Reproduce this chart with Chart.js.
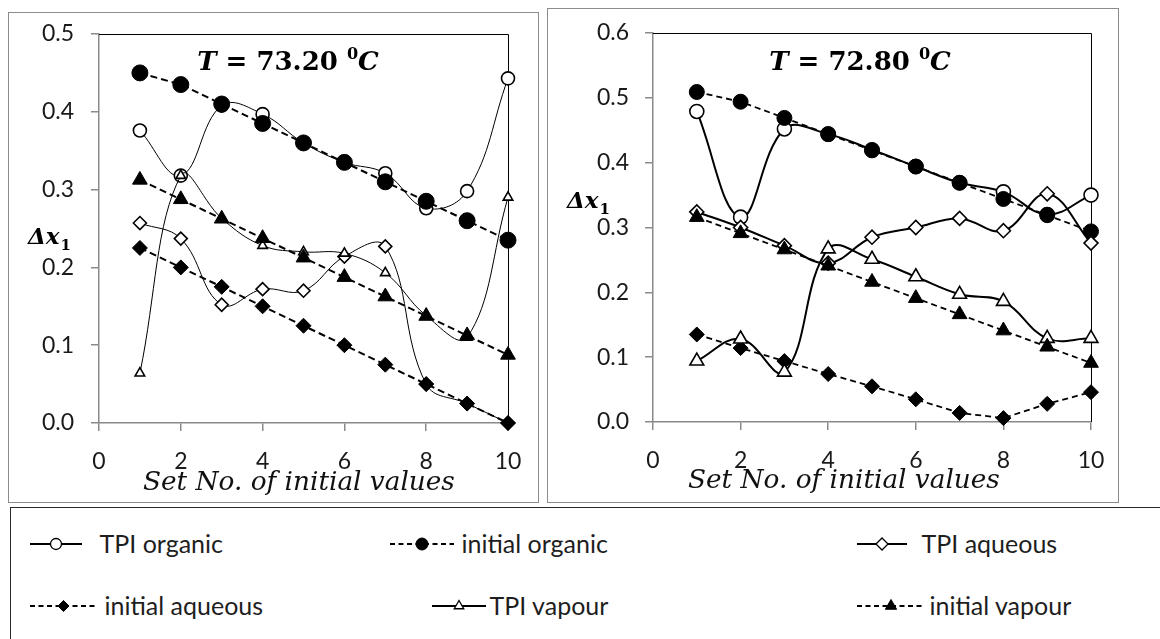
<!DOCTYPE html>
<html><head><meta charset="utf-8">
<script src="https://cdn.jsdelivr.net/npm/chart.js@4.4.0/dist/chart.umd.min.js"></script>
<style>
html,body{margin:0;padding:0;background:#fff}
body{width:1160px;height:639px;overflow:hidden;position:relative;font-family:Lato,"Open Sans",sans-serif}
.box{position:absolute;border:1.5px solid #8c8c8c;box-sizing:border-box}
canvas{position:absolute}
#legend{position:absolute;left:10px;top:507px;width:1170px;height:150px;border:1.5px solid #2a2a2a;box-sizing:border-box}
#legend svg{position:absolute;overflow:visible}
.item{position:absolute;white-space:nowrap;font-size:25px;color:#1e1e1e;line-height:30px}
</style></head><body>
<div class="box" style="left:8px;top:12px;width:531px;height:491px"></div>
<div class="box" style="left:547px;top:8px;width:572px;height:495px"></div>
<canvas id="cl" width="545" height="505" style="left:0;top:0"></canvas>
<canvas id="cr" width="615" height="505" style="left:545px;top:0"></canvas>
<div id="legend"></div>
<script>
// ---------- data ----------
const setNo = [1, 2, 3, 4, 5, 6, 7, 8, 9, 10];
const seriesNames = ['TPI organic', 'initial organic', 'TPI aqueous', 'initial aqueous', 'TPI vapour', 'initial vapour'];
const xTickLabels = ['0', '2', '4', '6', '8', '10'];
const yTickLabelsLeft = ['0.0', '0.1', '0.2', '0.3', '0.4', '0.5'];
const yTickLabelsRight = ['0.0', '0.1', '0.2', '0.3', '0.4', '0.5', '0.6'];
const tempLeft = '73.20';
const tempRight = '72.80';
const yAxisLabel = 'Δx';
const xAxisLabel = 'Set No. of initial values';

// T = 73.20 °C
const tpiOrganicL   = [0.376, 0.318, 0.408, 0.397, 0.360, 0.335, 0.321, 0.276, 0.298, 0.443];
const initOrganicL  = [0.450, 0.435, 0.410, 0.385, 0.360, 0.335, 0.310, 0.285, 0.260, 0.235];
const tpiAqueousL   = [0.257, 0.237, 0.152, 0.172, 0.170, 0.214, 0.227, 0.050, 0.025, 0.000];
const initAqueousL  = [0.225, 0.200, 0.175, 0.150, 0.125, 0.100, 0.075, 0.050, 0.025, 0.000];
const tpiVapourL    = [0.064, 0.318, 0.263, 0.228, 0.220, 0.218, 0.193, 0.138, 0.110, 0.290];
const initVapourL   = [0.3125, 0.2875, 0.2625, 0.2375, 0.2125, 0.1875, 0.1625, 0.1375, 0.1125, 0.0875];

// T = 72.80 °C
const tpiOrganicR   = [0.479, 0.316, 0.452, 0.444, 0.420, 0.394, 0.369, 0.355, 0.320, 0.350];
const initOrganicR  = [0.509, 0.494, 0.469, 0.444, 0.419, 0.394, 0.369, 0.344, 0.319, 0.294];
const tpiAqueousR   = [0.324, 0.300, 0.272, 0.245, 0.285, 0.300, 0.314, 0.295, 0.352, 0.276];
const initAqueousR  = [0.135, 0.114, 0.094, 0.074, 0.055, 0.035, 0.014, 0.006, 0.028, 0.046];
const tpiVapourR    = [0.094, 0.128, 0.077, 0.267, 0.251, 0.224, 0.197, 0.186, 0.129, 0.129];
const initVapourR   = [0.316, 0.291, 0.266, 0.241, 0.216, 0.191, 0.166, 0.141, 0.116, 0.091];

// ---------- styling ----------
const INK = '#000';
const AXIS = '#8a8a8a';
const TICKFONT = 'Lato, "Open Sans", sans-serif';
const SERIF = '"DejaVu Serif", "Liberation Serif", serif';
const shapes = ['circle', 'circle', 'rectRot', 'rectRot', 'triangle', 'triangle'];
const filled = [false, true, false, true, false, true];
const dashed = [false, true, false, true, false, true];

function buildDatasets(valueLists, cfg) {
  return valueLists.map((vals, i) => ({
    label: seriesNames[i],
    data: setNo.map((x, k) => ({x: x, y: vals[k]})),
    borderColor: INK,
    borderWidth: dashed[i] ? cfg.dashWidth : cfg.solidWidth,
    borderDash: dashed[i] ? cfg.dash : [],
    tension: dashed[i] ? 0 : 0.4,
    pointStyle: shapes[i],
    pointRadius: cfg.radii[i],
    pointHoverRadius: cfg.radii[i],
    pointBackgroundColor: filled[i] ? INK : '#fff',
    pointBorderColor: INK,
    pointBorderWidth: filled[i] ? 1 : 1.6,
    fill: false,
    clip: false,
    order: 10 - i
  }));
}

function fitFont(ctx, text, style, family, width) {
  ctx.font = style + ' 100px ' + family;
  const w = ctx.measureText(text).width;
  return 100 * width / w;
}

const decor = {
  id: 'decor',
  beforeDatasetsDraw(chart, args, o) {
    const {ctx, chartArea: a} = chart;
    ctx.save();
    ctx.strokeStyle = INK; ctx.lineWidth = 1;
    ctx.beginPath();
    ctx.moveTo(a.left, a.top + 0.5); ctx.lineTo(a.right + 0.5, a.top + 0.5); ctx.lineTo(a.right + 0.5, a.bottom);
    ctx.stroke();
    ctx.restore();
  },
  afterDraw(chart, args, o) {
    const ctx = chart.ctx;
    ctx.save();
    ctx.fillStyle = INK;
    ctx.textBaseline = 'alphabetic';
    const parts = [
      {t: 'T', st: 'italic bold', s: 1},
      {t: ' = ' + o.temp + ' ', st: 'bold', s: 1},
      {t: '0', st: 'bold', s: 0.62, dy: -0.42},
      {t: 'C', st: 'italic bold', s: 1}
    ];
    const size = o.titleSize;
    let total = 0;
    parts.forEach(p => { ctx.font = p.st + ' ' + (size * p.s) + 'px ' + SERIF; p.w = ctx.measureText(p.t).width; total += p.w; });
    let x = o.titleX - total / 2;
    parts.forEach(p => {
      ctx.font = p.st + ' ' + (size * p.s) + 'px ' + SERIF;
      ctx.textAlign = 'left';
      ctx.fillText(p.t, x, o.titleY + (p.dy || 0) * size);
      x += p.w;
    });
    ctx.font = 'italic bold 23px ' + SERIF;
    ctx.textAlign = 'left';
    ctx.fillText(yAxisLabel, o.ylX, o.ylY);
    const wy = ctx.measureText(yAxisLabel).width;
    ctx.font = 'bold 15px ' + SERIF;
    ctx.fillText('1', o.ylX + wy + 1, o.ylY + 6);
    const fs = fitFont(ctx, xAxisLabel, 'italic', SERIF, o.xlW);
    ctx.font = 'italic ' + fs + 'px ' + SERIF;
    ctx.fillStyle = '#111';
    ctx.textAlign = 'left';
    ctx.fillText(xAxisLabel, o.xlX, o.xlY);
    ctx.restore();
  }
};

function makeChart(id, valueLists, p) {
  return new Chart(document.getElementById(id), {
    type: 'line',
    data: {datasets: buildDatasets(valueLists, p.ds)},
    options: {
      responsive: false,
      animation: false,
      events: [],
      layout: {padding: {top: p.padTop, right: p.padRight, left: 0, bottom: 0}},
      plugins: {
        legend: {display: false},
        tooltip: {enabled: false},
        decor: p.decor
      },
      scales: {
        x: {
          type: 'linear', min: 0, max: 10,
          afterFit: s => { s.height = p.xHeight; },
          ticks: {stepSize: 2, padding: p.xPad, color: '#1a1a1a', font: {family: TICKFONT, size: 23},
            callback: (v, i) => xTickLabels[i], maxRotation: 0},
          grid: {drawOnChartArea: false, drawTicks: true, tickLength: 8, color: AXIS, lineWidth: 1.5},
          border: {color: AXIS, width: 1.5}
        },
        y: {
          min: 0, max: p.yMax,
          afterFit: s => { s.width = p.yWidth; },
          ticks: {stepSize: 0.1, padding: p.yPad, color: '#1a1a1a', font: {family: TICKFONT, size: 23},
            callback: (v, i) => p.yLabels[i]},
          grid: {drawOnChartArea: false, drawTicks: true, tickLength: 8, color: AXIS, lineWidth: 1.5},
          border: {color: AXIS, width: 1.5}
        }
      }
    },
    plugins: [decor]
  });
}

makeChart('cl', [tpiOrganicL, initOrganicL, tpiAqueousL, initAqueousL, tpiVapourL, initVapourL], {
  yMax: 0.5, yLabels: yTickLabelsLeft,
  padTop: 34, padRight: 37, xHeight: 82, yWidth: 99, xPad: 17, yPad: 17,
  ds: {solidWidth: 1, dashWidth: 2, dash: [7, 4], radii: [6.5, 8, 6.5, 7.5, 5.5, 8.5]},
  decor: {temp: tempLeft, titleX: 288, titleY: 70, titleSize: 26,
    ylX: 28, ylY: 244, xlX: 143, xlY: 490, xlW: 312}
});

makeChart('cr', [tpiOrganicR, initOrganicR, tpiAqueousR, initAqueousR, tpiVapourR, initVapourR], {
  yMax: 0.6, yLabels: yTickLabelsRight,
  padTop: 33, padRight: 69, xHeight: 83, yWidth: 108, xPad: 17, yPad: 16,
  ds: {solidWidth: 2, dashWidth: 1.8, dash: [6, 4], radii: [7, 7.5, 7, 7.5, 8, 8.5]},
  decor: {temp: tempRight, titleX: 860 - 545, titleY: 70, titleSize: 26,
    ylX: 22, ylY: 208, xlX: 143, xlY: 488, xlW: 312}
});

// ---------- legend ----------
const legendPos = [
  {x: 30, w: 52, tx: 100, row: 0},
  {x: 390, w: 64, tx: 462, row: 0},
  {x: 857, w: 50, tx: 922, row: 0},
  {x: 30, w: 67, tx: 105, row: 1},
  {x: 432, w: 54, tx: 490, row: 1},
  {x: 857, w: 68, tx: 930, row: 1}
];
const rowY = [544, 606];
function markerSvg(i, cx, cy) {
  const fill = filled[i] ? '#000' : '#fff';
  const sw = filled[i] ? 1 : 1.3;
  if (shapes[i] === 'circle') return `<circle cx="${cx}" cy="${cy}" r="${filled[i] ? 6 : 5.5}" fill="${fill}" stroke="#000" stroke-width="${sw}"/>`;
  if (shapes[i] === 'rectRot') { const r = filled[i] ? 5.5 : 6; return `<polygon points="${cx - r},${cy} ${cx},${cy - r} ${cx + r},${cy} ${cx},${cy + r}" fill="${fill}" stroke="#000" stroke-width="${sw}"/>`; }
  const r = filled[i] ? 6.5 : 5.5;
  return `<polygon points="${cx},${cy - r} ${cx + r * 0.866},${cy + r * 0.5} ${cx - r * 0.866},${cy + r * 0.5}" fill="${fill}" stroke="#000" stroke-width="${sw}"/>`;
}
const leg = document.getElementById('legend');
const L0 = 11.5, T0 = 508.5;
let html = '';
seriesNames.forEach((name, i) => {
  const p = legendPos[i];
  const y = rowY[p.row] - T0;
  const line = `<line x1="0" y1="10" x2="${p.w}" y2="10" stroke="#000" stroke-width="2" ${dashed[i] ? 'stroke-dasharray="5,3.5"' : ''}/>`;
  html += `<svg width="${p.w}" height="20" style="left:${p.x - L0}px;top:${y - 10}px">${line}${markerSvg(i, p.w / 2, 10)}</svg>`;
  html += `<div class="item" style="left:${p.tx - L0}px;top:${y - 16}px">${name}</div>`;
});
leg.innerHTML = html;
</script>
</body></html>
